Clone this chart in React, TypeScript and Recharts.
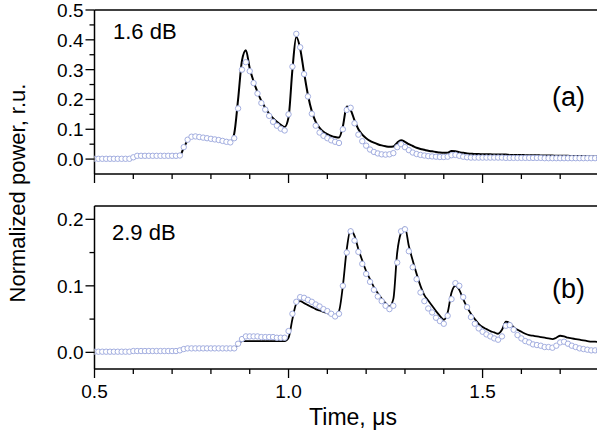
import { ComposedChart, Line, XAxis, YAxis, ReferenceLine } from "recharts";

const FONT = "Arial, 'Liberation Sans', Helvetica, sans-serif";

// time grid, µs (0.50 ... 1.80, step 0.01)
const time = Array.from({ length: 131 }, (_, i) => Math.round((0.5 + i * 0.01) * 100) / 100);

// (a) 1.6 dB — measured (line) and simulated (circles)
const measA = [
  0.001, 0.001, 0.001, 0.001, 0.001, 0.001, 0.001, 0.001, 0.001, 0.001,
  0.006, 0.011, 0.011, 0.011, 0.011, 0.011, 0.011, 0.011, 0.011, 0.011,
  0.011, 0.011, 0.012, 0.038, 0.063, 0.074, 0.076, 0.074, 0.072, 0.07,
  0.068, 0.066, 0.064, 0.061, 0.058, 0.056, 0.085, 0.2, 0.33, 0.365,
  0.305, 0.26, 0.225, 0.195, 0.172, 0.152, 0.137, 0.125, 0.115, 0.108,
  0.14, 0.3, 0.41, 0.37, 0.29, 0.215, 0.16, 0.125, 0.105, 0.092,
  0.084, 0.078, 0.074, 0.072, 0.11, 0.176, 0.165, 0.13, 0.1, 0.082,
  0.07, 0.061, 0.055, 0.05, 0.046, 0.043, 0.041, 0.042, 0.055, 0.063,
  0.058, 0.05, 0.044, 0.038, 0.034, 0.031, 0.028, 0.026, 0.024, 0.022,
  0.021, 0.021, 0.027, 0.026, 0.023, 0.021, 0.019, 0.018, 0.017, 0.017,
  0.016, 0.016, 0.016, 0.015, 0.015, 0.015, 0.015, 0.014, 0.014, 0.014,
  0.014, 0.013, 0.013, 0.013, 0.013, 0.012, 0.012, 0.012, 0.012, 0.011,
  0.011, 0.011, 0.011, 0.01, 0.01, 0.01, 0.01, 0.009, 0.009, 0.009,
  0.009,
];
const simA = [
  0.001, 0.001, 0.001, 0.001, 0.001, 0.001, 0.001, 0.001, 0.001, 0.001,
  0.006, 0.011, 0.011, 0.011, 0.011, 0.011, 0.011, 0.011, 0.011, 0.011,
  0.011, 0.011, 0.012, 0.04, 0.065, 0.075, 0.076, 0.074, 0.072, 0.07,
  0.068, 0.066, 0.064, 0.061, 0.058, 0.056, 0.07, 0.17, 0.3, 0.325,
  0.295, 0.255, 0.22, 0.188, 0.166, 0.145, 0.125, 0.112, 0.102, 0.096,
  0.15, 0.31, 0.42, 0.375, 0.285, 0.21, 0.152, 0.112, 0.089, 0.078,
  0.07, 0.063, 0.058, 0.054, 0.1, 0.165, 0.172, 0.12, 0.082, 0.06,
  0.045, 0.032, 0.024, 0.019, 0.016, 0.015, 0.016, 0.02, 0.04, 0.05,
  0.04, 0.03, 0.022, 0.017, 0.014, 0.012, 0.01, 0.009, 0.008, 0.007,
  0.007, 0.008, 0.013, 0.014, 0.011, 0.008, 0.006, 0.005, 0.005, 0.005,
  0.005, 0.005, 0.005, 0.005, 0.005, 0.005, 0.004, 0.004, 0.004, 0.004,
  0.004, 0.004, 0.004, 0.004, 0.004, 0.004, 0.003, 0.003, 0.003, 0.003,
  0.003, 0.003, 0.003, 0.003, 0.003, 0.003, 0.003, 0.003, 0.003, 0.003,
  0.003,
];

// (b) 2.9 dB
const measB = [
  0.001, 0.001, 0.001, 0.001, 0.001, 0.001, 0.001, 0.001, 0.001, 0.001,
  0.002, 0.002, 0.002, 0.002, 0.002, 0.002, 0.002, 0.002, 0.002, 0.002,
  0.002, 0.002, 0.003, 0.005, 0.006, 0.006, 0.006, 0.006, 0.006, 0.006,
  0.006, 0.006, 0.006, 0.006, 0.006, 0.006, 0.006, 0.012, 0.017, 0.017,
  0.017, 0.017, 0.017, 0.017, 0.017, 0.017, 0.017, 0.017, 0.017, 0.017,
  0.022, 0.05, 0.073, 0.077, 0.074, 0.071, 0.068, 0.065, 0.063, 0.061,
  0.059, 0.057, 0.056, 0.062, 0.1, 0.155, 0.185, 0.175, 0.155, 0.138,
  0.122, 0.11, 0.098, 0.089, 0.081, 0.074, 0.069, 0.08, 0.15, 0.18,
  0.188, 0.16, 0.138, 0.118, 0.1, 0.086, 0.078, 0.07, 0.062, 0.055,
  0.049, 0.06, 0.09, 0.1, 0.094, 0.08, 0.068, 0.058, 0.05, 0.043,
  0.038, 0.035, 0.032, 0.03, 0.028, 0.034, 0.046, 0.044, 0.038, 0.034,
  0.031, 0.028, 0.026, 0.025, 0.024, 0.023, 0.022, 0.021, 0.02, 0.022,
  0.025, 0.024, 0.022, 0.021, 0.02, 0.019, 0.018, 0.017, 0.016, 0.016,
  0.015,
];
const simB = [
  0.001, 0.001, 0.001, 0.001, 0.001, 0.001, 0.001, 0.001, 0.001, 0.001,
  0.002, 0.002, 0.002, 0.002, 0.002, 0.002, 0.002, 0.002, 0.002, 0.002,
  0.002, 0.002, 0.003, 0.005, 0.006, 0.006, 0.006, 0.006, 0.006, 0.006,
  0.006, 0.006, 0.006, 0.006, 0.006, 0.006, 0.006, 0.013, 0.02, 0.024,
  0.024, 0.024, 0.024, 0.023, 0.023, 0.023, 0.023, 0.022, 0.022, 0.022,
  0.032, 0.058, 0.076, 0.083, 0.082, 0.079, 0.076, 0.072, 0.069, 0.065,
  0.062, 0.058, 0.054, 0.058, 0.1, 0.15, 0.182, 0.168, 0.151, 0.133,
  0.118, 0.106, 0.094, 0.084, 0.077, 0.07, 0.065, 0.07, 0.135, 0.182,
  0.185, 0.152, 0.128, 0.11, 0.09, 0.077, 0.066, 0.06, 0.052, 0.047,
  0.043, 0.055, 0.08, 0.104, 0.1, 0.083, 0.068, 0.053, 0.043, 0.036,
  0.031, 0.027, 0.024, 0.021, 0.019, 0.024, 0.04, 0.041, 0.034, 0.026,
  0.021, 0.017, 0.015, 0.012, 0.011, 0.01, 0.008, 0.008, 0.007, 0.01,
  0.015, 0.016, 0.013, 0.01, 0.008, 0.006, 0.005, 0.004, 0.003, 0.003,
  0.003,
];

const xTicks = [0.5, 0.6, 0.7, 0.8, 0.9, 1.0, 1.1, 1.2, 1.3, 1.4, 1.5, 1.6, 1.7, 1.8];
const yTicksA = [0, 0.05, 0.1, 0.15, 0.2, 0.25, 0.3, 0.35, 0.4, 0.45, 0.5];
const yTicksB = [0, 0.05, 0.1, 0.15, 0.2];

const dataA = time.map((t, i) => ({ t, meas: measA[i], sim: simA[i] }));
const dataB = time.map((t, i) => ({ t, meas: measB[i], sim: simB[i] }));

const renderXTick = (p: any, showLabel: boolean) => {
  const v = p.payload.value;
  const major = Math.round(v * 10) % 5 === 0;
  return (
    <g>
      <line x1={p.x} x2={p.x} y1={p.y} y2={p.y + (major ? 9 : 5)} stroke="#000" strokeWidth={1.3} />
      {showLabel && major && (
        <text x={p.x} y={p.y + 29} textAnchor="middle" fontSize={19} fontFamily={FONT} fill="#000">
          {v.toFixed(1)}
        </text>
      )}
    </g>
  );
};

const renderYTick = (p: any) => {
  const v = p.payload.value;
  const major = Math.round(v * 100) % 10 === 0;
  return (
    <g>
      <line x1={p.x} x2={p.x - (major ? 9 : 5)} y1={p.y} y2={p.y} stroke="#000" strokeWidth={1.3} />
      {major && (
        <text x={p.x - 11} y={p.y + 7} textAnchor="end" fontSize={19} fontFamily={FONT} fill="#000">
          {v.toFixed(1)}
        </text>
      )}
    </g>
  );
};

function Panel({ data, yDomain, yTicks, top, height, xAxisHeight, showXLabels, lineWidth }: any) {
  return (
    <div style={{ position: "absolute", left: 0, top }}>
      <ComposedChart width={620} height={height} data={data} margin={{ top: 10, right: 21, bottom: 0, left: 0 }}>
        <XAxis
          dataKey="t"
          type="number"
          domain={[0.5, 1.8]}
          ticks={xTicks}
          interval={0}
          allowDataOverflow
          tickLine={false}
          tickSize={0}
          tickMargin={0}
          height={xAxisHeight}
          axisLine={{ stroke: "#000", strokeWidth: 1.5 }}
          tick={(p: any) => renderXTick(p, showXLabels)}
        />
        <YAxis
          type="number"
          domain={yDomain}
          ticks={yTicks}
          interval={0}
          allowDataOverflow
          tickLine={false}
          tickSize={0}
          tickMargin={0}
          width={94.5}
          axisLine={{ stroke: "#000", strokeWidth: 1.5 }}
          tick={renderYTick}
        />
        <ReferenceLine y={yDomain[1]} stroke="#000" strokeWidth={1.5} />
        <Line
          dataKey="meas"
          type="monotone"
          stroke="#000"
          strokeWidth={lineWidth}
          dot={false}
          activeDot={false}
          isAnimationActive={false}
        />
        <Line
          dataKey="sim"
          type="linear"
          stroke="none"
          dot={{ r: 2.7, stroke: "#a3aee0", strokeWidth: 1, fill: "#fff" }}
          activeDot={false}
          isAnimationActive={false}
        />
      </ComposedChart>
    </div>
  );
}

export default function App() {
  return (
    <div
      style={{
        position: "absolute",
        left: 0,
        top: 0,
        width: 597,
        height: 434,
        overflow: "hidden",
        background: "#fff",
      }}
    >
      <Panel data={dataA} yDomain={[-0.05, 0.5]} yTicks={yTicksA} top={0} height={190} xAxisHeight={16} showXLabels={false} lineWidth={2} />
      <Panel data={dataB} yDomain={[-0.025, 0.22]} yTicks={yTicksB} top={196} height={238} xAxisHeight={65} showXLabels={true} lineWidth={1.8} />
      <svg width={597} height={434} style={{ position: "absolute", left: 0, top: 0, pointerEvents: "none" }} fontFamily={FONT}>
        <text x={113} y={39} fontSize={22} fill="#000">1.6 dB</text>
        <text x={552} y={106} fontSize={27} fill="#000">(a)</text>
        <text x={112} y={240} fontSize={22} fill="#000">2.9 dB</text>
        <text x={552} y={298} fontSize={27} fill="#000">(b)</text>
        <text x={353} y={425} fontSize={23} textAnchor="middle" fill="#000">Time, μs</text>
        <text transform="translate(25,193) rotate(-90)" fontSize={22} textAnchor="middle" fill="#000">
          Normalized power, r.u.
        </text>
      </svg>
    </div>
  );
}
